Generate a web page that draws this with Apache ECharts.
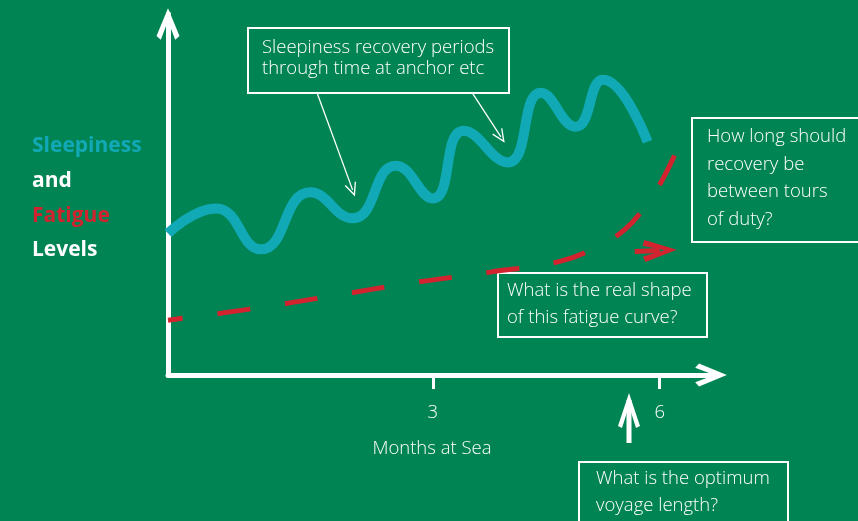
<!DOCTYPE html>
<html><head><meta charset="utf-8">
<script src="https://cdn.jsdelivr.net/npm/echarts@6/dist/echarts.min.js"></script>
<style>html,body{margin:0;padding:0;background:#008454;overflow:hidden}#c{width:858px;height:521px}</style>
</head><body><div id="c"></div>
<script>
// ---- data (months at sea vs. relative level) ----
const sleepMonths   = [-0.5, 0.13, 0.73, 1.38, 1.94, 2.51, 3.00, 3.41, 3.99, 4.43, 4.89, 5.25, 5.84];
const sleepLevels   = [39.8, 46.8, 35.3, 51.3, 44.0, 58.8, 49.6, 68.6, 59.7, 79.3, 69.7, 82.9, 65.5];
const fatigueMonths = [-0.5, 0.58, 1.64, 2.70, 3.76, 4.68, 5.21, 5.54, 5.80, 6.00, 6.20];
const fatigueLevels = [15.4, 18.5, 22.1, 25.8, 28.9, 31.9, 36.4, 40.9, 47.1, 53.5, 61.9];
const xTickValues   = [3, 6];
const xAxisTitle    = 'Months at Sea';
// pointer arrows [fromMonth, fromLevel, toMonth, toLevel]
const recoveryPointers = [[1.47, 79.3, 1.94, 52.0], [3.52, 79.3, 3.90, 66.9]];
const fatigueContinue  = [5.67, 34.7, 6.00, 35.0];
const notes = {
  recovery: ['Sleepiness recovery periods', 'through time at anchor etc'],
  tours: ['How long should', 'recovery be', 'between tours', 'of duty?'],
  shape: ['What is the real shape', 'of this fatigue curve?'],
  voyage: ['What is the optimum', 'voyage length?']
};

const BG = '#008454', TEAL = '#12a9b7', RED = '#d3232f', WHITE = '#ffffff';
const FONT = '"Open Sans", "Noto Sans", sans-serif';
const chevronAxis = 'path://M12 0 L24 29 L19.5 33 L12 13 L4.5 33 L0 29 Z';
const chevronThin = 'path://M5 0 L10 9.6 L9 10 L5 2.4 L1 10 L0 9.6 Z';
const chevronRed  = 'path://M10 0 L20 29 L15 31 L10 11 L5 31 L0 29 Z';

function zip(a, b) { return a.map((v, i) => [v, b[i]]); }

function noteBox(x, y, w, h, lines, tx, ty, lh) {
  const children = [{
    type: 'rect', shape: { x: x, y: y, width: w, height: h },
    style: { fill: 'none', stroke: WHITE, lineWidth: 2 }
  }];
  lines.forEach((t, i) => children.push({
    type: 'text', x: tx, y: ty + i * lh,
    style: { text: t, fill: WHITE, font: '300 18.5px ' + FONT, textVerticalAlign: 'middle', textAlign: 'left' }
  }));
  return { type: 'group', children: children, z: 10 };
}

const chart = echarts.init(document.getElementById('c'), null, { renderer: 'canvas' });
chart.setOption({
  backgroundColor: BG,
  animation: false,
  title: {
    left: 32, top: 129, padding: 0,
    text: '{a|Sleepiness}\n{b|and}\n{c|Fatigue}\n{b|Levels}',
    textStyle: {
      rich: {
        a: { color: TEAL, fontSize: 21, fontWeight: 'bold', fontFamily: FONT, lineHeight: 34.7 },
        b: { color: WHITE, fontSize: 21, fontWeight: 'bold', fontFamily: FONT, lineHeight: 34.7 },
        c: { color: RED, fontSize: 21, fontWeight: 'bold', fontFamily: FONT, lineHeight: 34.7 }
      }
    }
  },
  grid: { left: 168, right: 140, top: 14, bottom: 146, containLabel: false },
  xAxis: {
    type: 'value', min: -0.5, max: 6.77,
    name: xAxisTitle, nameLocation: 'middle', nameGap: 64,
    nameTextStyle: { color: WHITE, fontSize: 18.5, fontWeight: 300, fontFamily: FONT, padding: [0, 22, 0, 0] },
    axisLine: { show: true, onZero: false, symbol: ['none', chevronAxis], symbolSize: [23, 35], symbolOffset: [0, -7],
      lineStyle: { color: WHITE, width: 5 } },
    axisTick: { show: true, customValues: xTickValues, length: 14, lineStyle: { color: WHITE, width: 3 } },
    axisLabel: { show: true, customValues: xTickValues, margin: 28, color: WHITE, fontSize: 18.5, fontWeight: 300, fontFamily: FONT },
    splitLine: { show: false }
  },
  yAxis: {
    type: 'value', min: 0, max: 101.4,
    axisLine: { show: true, onZero: false, symbol: ['none', chevronAxis], symbolSize: [23, 35], symbolOffset: [0, -10],
      lineStyle: { color: WHITE, width: 5 } },
    axisTick: { show: false }, axisLabel: { show: false }, splitLine: { show: false }
  },
  series: [
    {
      name: 'Fatigue', type: 'line', data: zip(fatigueMonths, fatigueLevels), smooth: 0.4,
      showSymbol: false, symbol: 'none', z: 3,
      lineStyle: { color: RED, width: 5, type: [33, 35], dashOffset: 18, cap: 'butt' },
      markLine: {
        silent: true, symbol: ['none', chevronRed], symbolSize: [22, 34],
        label: { show: false },
        lineStyle: { color: RED, width: 5, type: 'solid' },
        data: [[{ coord: [fatigueContinue[0], fatigueContinue[1]] }, { coord: [fatigueContinue[2], fatigueContinue[3]] }]]
      }
    },
    {
      name: 'Sleepiness', type: 'line', data: zip(sleepMonths, sleepLevels), smooth: 0.5,
      showSymbol: false, symbol: 'none', z: 4,
      lineStyle: { color: TEAL, width: 10, cap: 'butt', join: 'round' },
      markLine: {
        silent: true, symbol: ['none', chevronThin], symbolSize: [12, 14],
        label: { show: false },
        lineStyle: { color: WHITE, width: 1.3, type: 'solid' },
        data: recoveryPointers.map(p => [{ coord: [p[0], p[1]] }, { coord: [p[2], p[3]] }])
      }
    }
  ],
  graphic: [
    noteBox(248, 28, 261, 65, notes.recovery, 262, 48, 21),
    noteBox(692, 118, 180, 124, notes.tours, 707, 137, 27.5),
    noteBox(498, 273, 209, 64, notes.shape, 507, 291, 27),
    noteBox(579, 462, 209, 80, notes.voyage, 596, 479, 27),
    {
      type: 'group', z: 10, children: [
        { type: 'line', shape: { x1: 629, y1: 443, x2: 629, y2: 400 }, style: { stroke: WHITE, lineWidth: 5 } },
        { type: 'polygon', shape: { points: [[629, 393], [640, 426], [636, 428], [629, 406], [622, 428], [618, 426]] },
          style: { fill: WHITE } }
      ]
    }
  ]
});
</script></body></html>
